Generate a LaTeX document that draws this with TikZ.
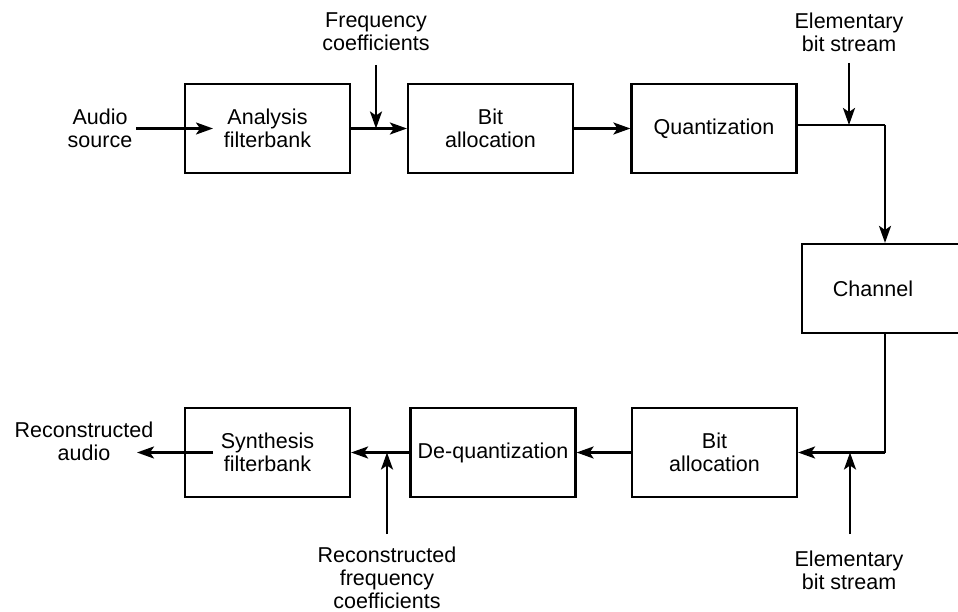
\documentclass[tikz,border=0pt]{standalone}
\usepackage{fontspec}
\setmainfont{Liberation Sans}
\usetikzlibrary{arrows.meta}
\begin{document}
\begin{tikzpicture}[x=1pt,y=-1pt,
  every node/.style={font=\fontsize{21.5}{23}\selectfont, align=center, inner sep=0pt},
  block/.style={draw, line width=2.2pt, minimum width=165pt, minimum height=89pt},
  flow/.style={line width=2.4pt, -{Stealth[length=17pt,width=12pt,inset=4pt]}},
  wire/.style={line width=2.4pt}]
\clip (0,0) rectangle (958,612);
\useasboundingbox (0,0) rectangle (958,612);

% encoder row
\node[block] (ana) at (267.5,128.5) {Analysis\\filterbank};
\node[block] (bal) at (490.5,128.5) {Bit\\allocation};
\node[block] (qua) at (714,128.5) {Quantization};

% channel
\node[block] (ch) at (884.5,288.5) {};
\node (chtxt) at (873,288.5) {Channel};

% decoder row
\node[block] (bal2) at (714.5,452.5) {Bit\\allocation};
\node[block] (deq) at (493,452.5) {De-quantization};
\node[block] (syn) at (267.5,452.5) {Synthesis\\filterbank};

% external labels
\node (src) at (100,128.5) {Audio\\source};
\node (fc) at (376,32) {Frequency\\coefficients};
\node (ebs) at (849,32) {Elementary\\bit stream};
\node (ebs2) at (849,570) {Elementary\\bit stream};
\node (rfc) at (387,578) {Reconstructed\\frequency\\coefficients};
\node (rau) at (84,441.5) {Reconstructed\\audio};

% junction points and free ends
\coordinate (jf) at (376,128.5);
\coordinate (jft) at (376,65);
\coordinate (jq) at (849,125);
\coordinate (jqt) at (849,63);
\coordinate (cq) at (885,125);
\coordinate (cb) at (885,452.5);
\coordinate (jb) at (850,452.5);
\coordinate (jbb) at (850,534);
\coordinate (jr) at (387,452.5);
\coordinate (jrb) at (387,534);
\coordinate (srcend) at (136,128.5);
\coordinate (anain) at (213,128.5);
\coordinate (synout) at (213,452.5);
\coordinate (rauend) at (137,452.5);

% encoder connections
\draw[flow] (srcend) -- (anain);
\draw[flow] (ana.east) -- (bal.west);
\draw[flow] (jft) -- (jf);
\draw[flow] (bal.east) -- (qua.west);
\draw[flow] (jqt) -- (jq);
\draw[wire] (qua.east |- cq) -- (cq);
\draw[flow] (cq) -- (ch.north -| cq);

% decoder connections
\draw[wire] (ch.south -| cb) -- (cb);
\draw[flow] (cb) -- (bal2.east);
\draw[flow] (jbb) -- (jb);
\draw[flow] (bal2.west) -- (deq.east);
\draw[flow] (deq.west) -- (syn.east);
\draw[flow] (jrb) -- (jr);
\draw[flow] (synout) -- (rauend);
\end{tikzpicture}
\end{document}
